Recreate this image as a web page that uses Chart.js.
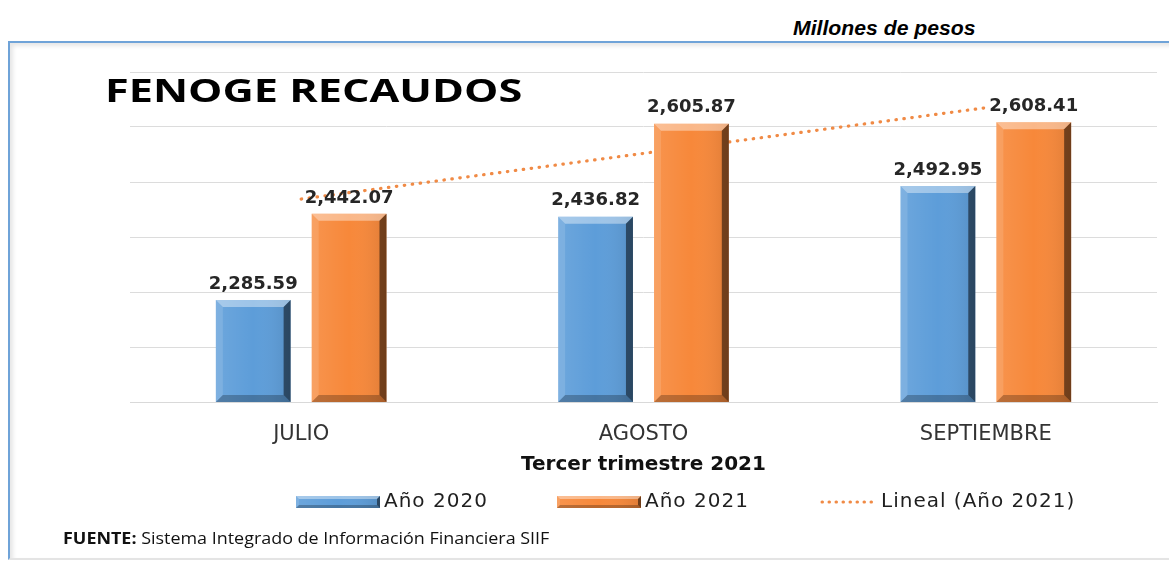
<!DOCTYPE html>
<html>
<head>
<meta charset="utf-8">
<script src="https://cdn.jsdelivr.net/npm/chart.js@4.4.1/dist/chart.umd.min.js"></script>
<style>
  html, body { margin: 0; padding: 0; background: #fff; width: 1169px; height: 561px; overflow: hidden; }
  #wrap { position: relative; width: 1169px; height: 561px; }
  #frame {
    position: absolute; left: 8px; top: 41px; width: 1175px; height: 515px;
    border-top: 2px solid #6fa3d8; border-left: 2px solid #6fa3d8;
    border-bottom: 2px solid #e4e4e4;
    box-shadow: inset 3px 3px 4px rgba(0,0,0,0.10);
  }
  #units { position: absolute; left: 793px; top: 17px; font: italic bold 20px "Liberation Sans", Arial, sans-serif; color: #000;
           transform-origin: left top; transform: scaleX(1.06); white-space: nowrap; }
  #title { position: absolute; left: 105px; top: 67px; font: bold 33px "Open Sans", sans-serif; color: #000;
           transform-origin: left top; transform: scaleX(1.31); white-space: nowrap; }
  #source { position: absolute; left: 63px; top: 527px; font: 16px "Open Sans", sans-serif; color: #111; white-space: nowrap;
            transform-origin: left top; transform: scaleX(1.12); }
  canvas { position: absolute; left: 0; top: 0; }
</style>
</head>
<body>
<div id="wrap">
  <div id="frame"></div>
  <div id="units">Millones de pesos</div>
  <canvas id="chartRecaudos" width="1169" height="561"></canvas>
  <div id="title">FENOGE RECAUDOS</div>
  <div id="source"><b>FUENTE:</b> Sistema Integrado de Información Financiera SIIF</div>
</div>
<script>
// Data
const months = ['JULIO', 'AGOSTO', 'SEPTIEMBRE'];
const year2020 = [2285.59, 2436.82, 2492.95];
const year2021 = [2442.07, 2605.87, 2608.41];
const trend2021 = [2469, 2552, 2635];
const seriesNames = ['Año 2020', 'Año 2021', 'Lineal (Año 2021)'];
const yMin = 2100, yMax = 2700, yStep = 100;

const BLUE = '#5d9dd9';
const ORANGE = '#f7883a';

// draws the bevelled "3D" edges over a rectangle
function bevel(ctx, l, t, r, b, d, fill) {
    const poly = (pts, color) => {
        ctx.beginPath();
        ctx.moveTo(pts[0][0], pts[0][1]);
        pts.slice(1).forEach(p => ctx.lineTo(p[0], p[1]));
        ctx.closePath();
        ctx.fillStyle = color;
        ctx.fill();
    };
    ctx.save();
    if (fill) {
        ctx.fillStyle = fill;
        ctx.fillRect(l, t, r - l, b - t);
    }
    const g = ctx.createLinearGradient(l, 0, r, 0);
    g.addColorStop(0, 'rgba(255,255,255,0.10)');
    g.addColorStop(0.5, 'rgba(255,255,255,0.0)');
    g.addColorStop(1, 'rgba(0,0,0,0.10)');
    ctx.fillStyle = g;
    ctx.fillRect(l, t, r - l, b - t);
    poly([[l, t], [r, t], [r - d, t + d], [l + d, t + d]], 'rgba(255,255,255,0.40)');
    poly([[l, t], [l + d, t + d], [l + d, b - d], [l, b]], 'rgba(255,255,255,0.12)');
    poly([[r, t], [r, b], [r - d, b - d], [r - d, t + d]], 'rgba(0,0,0,0.50)');
    poly([[l, b], [r, b], [r - d, b - d], [l + d, b - d]], 'rgba(0,0,0,0.25)');
    ctx.restore();
}

const barBevel = {
    id: 'barBevel',
    afterDatasetDraw(chart, args) {
        if (args.meta.type !== 'bar') return;
        const { ctx, chartArea } = chart;
        args.meta.data.forEach(bar => {
            const { x, y, base, width } = bar.getProps(['x', 'y', 'base', 'width'], true);
            bevel(ctx, x - width / 2, y, x + width / 2, Math.min(base, chartArea.bottom), 7);
        });
    }
};

const valueLabels = {
    id: 'valueLabels',
    afterDatasetsDraw(chart) {
        const { ctx } = chart;
        ctx.save();
        ctx.font = 'bold 18px "DejaVu Sans"';
        ctx.fillStyle = '#262626';
        ctx.textAlign = 'center';
        ctx.textBaseline = 'bottom';
        [0, 1].forEach(di => {
            const ds = chart.data.datasets[di];
            chart.getDatasetMeta(di).data.forEach((bar, i) => {
                const txt = ds.data[i].toLocaleString('en-US', { minimumFractionDigits: 2, maximumFractionDigits: 2 });
                ctx.fillText(txt, bar.x, bar.y - 7);
            });
        });
        ctx.restore();
    }
};

// legend drawn below the axis title
const legendX = [296, 557, 820];
const bottomLegend = {
    id: 'bottomLegend',
    afterDraw(chart) {
        const { ctx } = chart;
        const y = chart.scales.x.bottom + 25;
        ctx.save();
        ctx.font = '20px "DejaVu Sans"';
        ctx.letterSpacing = '1px';
        ctx.fillStyle = '#1f1f1f';
        ctx.textBaseline = 'middle';
        chart.data.datasets.forEach((ds, i) => {
            let x = legendX[i];
            if (ds.type === 'line') {
                ctx.save();
                ctx.strokeStyle = ds.borderColor;
                ctx.lineWidth = 3;
                ctx.lineCap = 'round';
                ctx.setLineDash([0.5, 6.5]);
                ctx.beginPath();
                ctx.moveTo(x + 2, y);
                ctx.lineTo(x + 56, y);
                ctx.stroke();
                ctx.restore();
                x += 61;
            } else {
                bevel(ctx, x, y - 6, x + 84, y + 6, 3, ds.backgroundColor);
                x += 88;
            }
            ctx.fillText(ds.label, x, y);
        });
        ctx.restore();
    }
};

new Chart(document.getElementById('chartRecaudos'), {
    data: {
        labels: months,
        datasets: [
            {
                type: 'bar', label: seriesNames[0], data: year2020,
                backgroundColor: BLUE, order: 1,
                categoryPercentage: 0.56, barPercentage: 0.78,
            },
            {
                type: 'bar', label: seriesNames[1], data: year2021,
                backgroundColor: ORANGE, order: 1,
                categoryPercentage: 0.56, barPercentage: 0.78,
            },
            {
                type: 'line', label: seriesNames[2], data: trend2021,
                borderColor: '#f08a45', borderWidth: 3.2,
                borderDash: [0.5, 7.5], borderCapStyle: 'round',
                pointRadius: 0, fill: false, tension: 0, order: 2,
            }
        ]
    },
    options: {
        responsive: false,
        animation: false,
        layout: { padding: { left: 130, right: 12, top: 72, bottom: 84 } },
        plugins: {
            legend: { display: false },
            tooltip: { enabled: false },
        },
        scales: {
            x: {
                afterFit: scale => { scale.height = 75; },
                grid: { display: false },
                border: { color: '#d9d9d9' },
                ticks: { color: '#333', padding: 12, font: { family: 'DejaVu Sans', size: 21 } },
                title: {
                    display: true, text: 'Tercer trimestre 2021', color: '#111',
                    font: { family: 'DejaVu Sans', size: 20, weight: 'bold' },
                    padding: { top: 0, bottom: 0 },
                },
            },
            y: {
                min: yMin, max: yMax,
                ticks: { display: false, stepSize: yStep },
                grid: { color: '#dcdcdc', drawTicks: false },
                border: { display: false },
            }
        }
    },
    plugins: [barBevel, valueLabels, bottomLegend]
});
</script>
</body>
</html>
